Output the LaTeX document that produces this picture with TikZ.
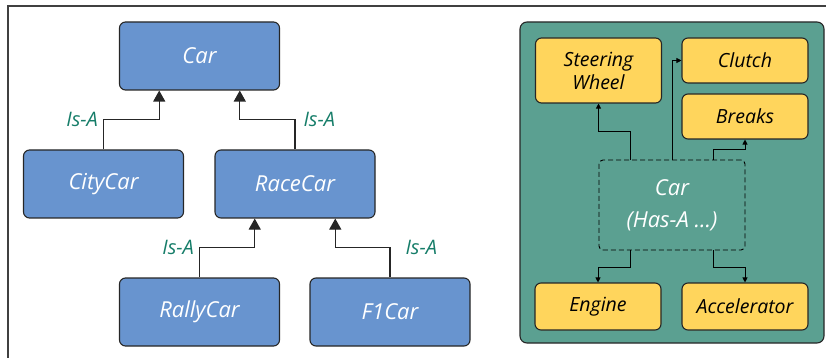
\documentclass[tikz,border=0pt]{standalone}
\usepackage{fontspec}
\setmainfont{Open Sans}
\usetikzlibrary{arrows.meta,calc}
\definecolor{carblue}{RGB}{104,148,207}
\definecolor{panelgreen}{RGB}{91,160,145}
\definecolor{partyellow}{RGB}{255,213,92}
\definecolor{isagreen}{RGB}{22,125,105}
\tikzset{
    classbox/.style={draw=black!85, line width=1.1pt, rounded corners=6pt, fill=carblue,
        minimum width=160pt, minimum height=68pt, text=white, font=\fontsize{22}{24}\selectfont\itshape},
    partbox/.style={draw=black!85, line width=1.1pt, rounded corners=6pt, fill=partyellow,
        minimum width=126pt, text=black, font=\fontsize{19.5}{23}\selectfont\itshape, align=center},
    isa/.style={draw=black!85, line width=1.1pt, -{Triangle[length=11pt,width=12pt]}},
    hasa/.style={draw=black, line width=0.9pt, -{Triangle[length=5pt,width=5pt]}},
    isalabel/.style={text=isagreen, font=\fontsize{20}{22}\selectfont\itshape, inner sep=5pt}
}
\begin{document}
\begin{tikzpicture}[x=1pt, y=-1pt]
    \useasboundingbox (0,0) rectangle (827,358);
    % frame
    \draw[black!75, line width=1.6pt] (8,358) -- (8,6) -- (826,6);

    % Is-A hierarchy
    \node[classbox] (car) at (199.5,56) {Car};
    \node[classbox] (citycar) at (103.5,184) {CityCar};
    \node[classbox] (racecar) at (295,184) {RaceCar};
    \node[classbox] (rallycar) at (199.5,312) {RallyCar};
    \node[classbox] (f1car) at (390,312) {F1Car};

    \draw[isa] (citycar.north) -- ++(0,-30) node[isalabel, left] {Is-A}
        -| ($(car.south)!0.5!(car.south west)$);
    \draw[isa] (racecar.north) -- ++(0,-30) node[isalabel, right=3pt] {Is-A}
        -| ($(car.south)!0.5!(car.south east)$);
    \draw[isa] (rallycar.north) -- ++(0,-30) node[isalabel, left] {Is-A}
        -| ($(racecar.south)!0.5!(racecar.south west)$);
    \draw[isa] (f1car.north) -- ++(0,-30) node[isalabel, right=10pt] {Is-A}
        -| ($(racecar.south)!0.5!(racecar.south east)$);

    % Has-A composition
    \draw[black!85, line width=1.1pt, rounded corners=7pt, fill=panelgreen] (520,22) rectangle (824,343);
    \node[partbox, minimum height=65pt] (steering) at (598.5,70.5) {Steering\\Wheel};
    \node[partbox, minimum height=45pt] (clutch) at (745,60.5) {Clutch};
    \node[partbox, minimum height=45pt] (breaks) at (745,116.5) {Breaks};
    \node[partbox, minimum height=47pt] (engine) at (598,306.5) {Engine};
    \node[partbox, minimum height=47pt] (accel) at (745,306.5) {Accelerator};
    \node[draw=black, dash pattern=on 5pt off 3pt, line width=0.9pt, rounded corners=4pt,
        minimum width=146pt, minimum height=90pt, text=white, align=center,
        font=\fontsize{22}{32}\selectfont\itshape] (hascar) at (672,205) {Car\\(Has-A ...)};

    \draw[hasa] ($(hascar.north west)!0.22!(hascar.north east)$) -- ++(0,-28) -| (steering.south);
    \draw[hasa] (hascar.north) |- (clutch.west);
    \draw[hasa] ($(hascar.north west)!0.78!(hascar.north east)$) -- ++(0,-10) -| (breaks.south);
    \draw[hasa] ($(hascar.south west)!0.22!(hascar.south east)$) -- ++(0,17) -| (engine.north);
    \draw[hasa] ($(hascar.south west)!0.78!(hascar.south east)$) -- ++(0,17) -| (accel.north);
\end{tikzpicture}
\end{document}
